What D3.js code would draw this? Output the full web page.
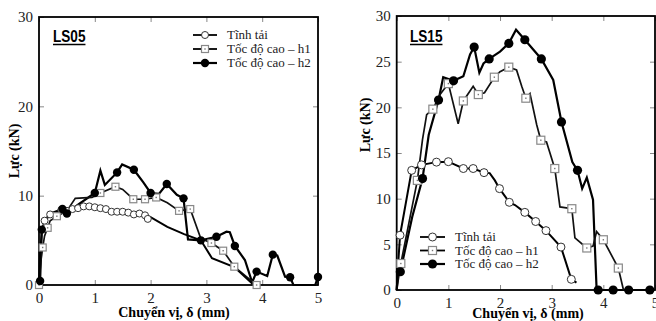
<!DOCTYPE html>
<html>
<head>
<meta charset="utf-8">
<script src="https://cdn.jsdelivr.net/npm/d3@7"></script>
<style>
  body { margin: 0; background: #fff; }
  svg { display: block; }
  .serif, .tick text { font-family: "Liberation Serif", "Times New Roman", Times, "DejaVu Serif", serif; }
  .tick text { font-size: 15px; fill: #222; }
  .tick line { stroke: #888; }
</style>
</head>
<body>
<div id="chart"></div>
<script>
// ---- data: [displacement mm, force kN] ----
const xTicks = [0, 1, 2, 3, 4, 5];
const ls05YTicks = [0, 10, 20, 30];
const ls15YTicks = [0, 5, 10, 15, 20, 25, 30];
const seriesNames = ["Tĩnh tải", "Tốc độ cao – h1", "Tốc độ cao – h2"];

// LS05
const ls05Static = [[0,0],[0.02,3.5],[0.05,6.0],[0.1,7.0],[0.15,7.6],[0.2,7.9],[0.3,8.1],[0.4,8.3],[0.5,8.4],[0.6,8.6],[0.7,8.7],[0.8,8.8],[0.9,8.7],[1.0,8.6],[1.1,8.6],[1.2,8.5],[1.3,8.3],[1.4,8.2],[1.5,8.2],[1.6,8.1],[1.7,7.9],[1.8,7.9],[1.9,7.8],[2.0,7.6],[2.3,6.5],[2.6,5.7],[2.9,5.0],[3.1,3.0],[3.5,2.0],[3.85,0]];
const ls05StaticMarks = [[0.1,7.2],[0.2,7.9],[0.4,8.4],[0.5,8.3],[0.6,8.5],[0.7,8.6],[0.8,8.8],[0.9,8.8],[1.0,8.7],[1.1,8.6],[1.2,8.5],[1.3,8.2],[1.4,8.2],[1.5,8.2],[1.6,8.1],[1.7,7.9],[1.8,8.0],[1.9,7.8],[1.95,7.4]];
const ls05H1 = [[0,0],[0.03,2.5],[0.066,4.2],[0.1,5.5],[0.155,6.4],[0.2,7.2],[0.32,7.7],[0.5,8.3],[0.65,9.7],[0.95,9.8],[1.1,10.3],[1.37,11.0],[1.5,10.7],[1.69,9.6],[1.9,9.6],[2.1,9.8],[2.3,9.2],[2.51,8.3],[2.71,8.5],[2.9,5.2],[3.09,4.7],[3.3,3.84],[3.5,2.05],[3.9,0]];
const ls05H1Marks = [[0,0],[0.066,4.2],[0.155,6.4],[0.32,7.7],[1.1,10.3],[1.37,11.0],[1.69,9.6],[1.9,9.6],[2.1,9.8],[2.51,8.3],[2.71,8.5],[3.09,4.7],[3.3,3.84],[3.5,2.05],[3.9,0]];
const ls05H2 = [[0,0],[0.02,0.4],[0.05,6.2],[0.1,7.0],[0.2,8.0],[0.42,8.5],[0.5,8.0],[0.7,9.0],[1.0,10.3],[1.1,12.8],[1.18,11.2],[1.4,12.6],[1.49,13.5],[1.7,12.9],[1.87,11.5],[2.0,10.3],[2.15,10.2],[2.29,11.3],[2.47,10.1],[2.59,9.7],[2.67,5.1],[2.9,5.0],[3.18,5.4],[3.36,5.97],[3.42,5.9],[3.51,4.37],[3.69,2.8],[3.82,0.3],[3.9,1.5],[4.09,1.0],[4.19,3.4],[4.27,3.3],[4.41,0.93],[4.5,0.86],[4.56,0],[4.95,0],[5.0,0.9]];
const ls05H2Marks = [[0.02,0.45],[0.05,6.2],[0.42,8.5],[0.5,8.0],[1.0,10.3],[1.4,12.6],[1.7,12.9],[2.0,10.3],[2.29,11.3],[2.59,9.7],[2.9,5.0],[3.18,5.4],[3.51,4.37],[3.9,1.5],[4.19,3.4],[4.5,0.86],[5.0,0.9]];

// LS15
const ls15Static = [[0,0],[0.03,3],[0.065,6.0],[0.29,13.1],[0.48,13.7],[0.77,14.0],[1.0,14.05],[1.29,13.3],[1.48,13.3],[1.69,12.85],[1.8,12.8],[1.9,12.0],[1.99,11.1],[2.18,9.6],[2.29,9.3],[2.48,8.5],[2.69,7.5],[2.89,6.5],[3.18,4.7],[3.26,3.3],[3.38,1.17],[3.48,0.8]];
const ls15StaticMarks = [[0.065,6.0],[0.29,13.1],[0.48,13.7],[0.77,14.0],[1.0,14.05],[1.29,13.3],[1.48,13.3],[1.69,12.85],[1.99,11.1],[2.18,9.6],[2.48,8.5],[2.69,7.5],[2.89,6.5],[3.18,4.7],[3.38,1.17]];
const ls15H1 = [[0,0],[0.04,1.5],[0.08,2.9],[0.4,12.0],[0.5,16.5],[0.58,19.2],[0.7,19.8],[0.85,21.5],[1.0,22.6],[1.19,18.2],[1.29,20.7],[1.48,22.3],[1.58,21.4],[1.7,21.6],[1.89,23.3],[2.0,23.9],[2.17,24.4],[2.32,24.1],[2.42,22.3],[2.5,21.0],[2.58,21.5],[2.71,18.1],[2.79,16.4],[2.9,16.2],[3.06,13.3],[3.16,9.1],[3.39,8.9],[3.45,5.7],[3.68,4.6],[3.8,4.8],[3.87,6.4],[4.0,5.5],[4.29,2.4],[4.39,0]];
const ls15H1Marks = [[0.08,2.9],[0.4,12.0],[0.7,19.8],[1.0,22.6],[1.29,20.7],[1.58,21.4],[1.89,23.3],[2.17,24.4],[2.5,21.0],[2.79,16.4],[3.06,13.3],[3.39,8.9],[3.68,4.6],[4.0,5.5],[4.29,2.4]];
const ls15H2 = [[0,0],[0.02,1.5],[0.07,2.0],[0.3,8.0],[0.5,12.2],[0.62,17.0],[0.81,20.8],[0.9,23.3],[1.1,22.9],[1.29,23.4],[1.42,25.8],[1.5,26.6],[1.6,23.8],[1.68,24.8],[1.79,25.3],[2.0,26.1],[2.17,27.0],[2.31,28.5],[2.48,27.4],[2.8,25.3],[3.03,23.0],[3.19,18.4],[3.4,14.0],[3.5,13.1],[3.59,11.1],[3.68,12.3],[3.8,9.9],[3.87,0],[4.9,0]];
const ls15H2Marks = [[0.07,2.0],[0.5,12.2],[0.81,20.8],[1.1,22.9],[1.5,26.6],[1.79,25.3],[2.17,27.0],[2.48,27.4],[2.8,25.3],[3.19,18.4],[3.5,13.1],[3.9,0],[4.19,0],[4.49,0],[4.9,0]];

const W = 656, H = 321;
const SERIF = "'Liberation Serif', 'Times New Roman', Times, serif";
const svg = d3.select("#chart").append("svg").attr("width", W).attr("height", H);

function drawPanel(p) {
    let x = d3.scaleLinear().domain([0, 5]).range([p.left, p.right]);
    let y = d3.scaleLinear().domain([0, 30]).range([p.bottom, p.top]);
    let g = svg.append("g");
    let fmt = d3.format("d");

    // axes, ticks inward
    g.append("g").attr("transform", "translate(0," + p.bottom + ")")
        .call(d3.axisBottom(x).tickValues(xTicks).tickFormat(fmt).tickSizeInner(-5).tickSizeOuter(0).tickPadding(7))
        .attr("font-family", SERIF).attr("font-size", 15)
        .call(a => a.select(".domain").remove());
    g.append("g").attr("transform", "translate(0," + p.top + ")")
        .call(d3.axisTop(x).tickValues(xTicks).tickSizeInner(-5).tickSizeOuter(0).tickFormat(""))
        .call(a => a.select(".domain").remove());
    g.append("g").attr("transform", "translate(" + p.left + ",0)")
        .call(d3.axisLeft(y).tickValues(p.yTicks).tickFormat(fmt).tickSizeInner(-5).tickSizeOuter(0).tickPadding(6))
        .attr("font-family", SERIF).attr("font-size", 15)
        .call(a => a.select(".domain").remove());
    g.append("g").attr("transform", "translate(" + p.right + ",0)")
        .call(d3.axisRight(y).tickValues(p.yTicks).tickSizeInner(-5).tickSizeOuter(0).tickFormat(""))
        .call(a => a.select(".domain").remove());

    // frame
    g.append("rect").attr("x", p.left).attr("y", p.top)
        .attr("width", p.right - p.left).attr("height", p.bottom - p.top)
        .attr("fill", "none").attr("stroke", "#000").attr("stroke-width", 1.8);

    let line = d3.line().x(d => x(d[0])).y(d => y(d[1]));

    g.append("path").datum(p.h2).attr("d", line).attr("fill", "none").attr("stroke", "#000").attr("stroke-width", 2.2);
    g.append("path").datum(p.h1).attr("d", line).attr("fill", "none").attr("stroke", "#111").attr("stroke-width", 1.7);
    g.append("path").datum(p.stat).attr("d", line).attr("fill", "none").attr("stroke", "#000").attr("stroke-width", 2);

    // markers
    g.selectAll(".m0").data(p.statMarks).enter().append("circle")
        .attr("cx", d => x(d[0])).attr("cy", d => y(d[1])).attr("r", p.rOpen)
        .attr("fill", "#fff").attr("stroke", "#333").attr("stroke-width", 1);
    let sq = p.sq;
    g.selectAll(".m1").data(p.h1Marks).enter().append("rect")
        .attr("x", d => x(d[0]) - sq / 2).attr("y", d => y(d[1]) - sq / 2)
        .attr("width", sq).attr("height", sq)
        .attr("fill", "#fff").attr("stroke", "#888").attr("stroke-width", 1.2);
    g.selectAll(".m1d").data(p.h1Marks).enter().append("rect")
        .attr("x", d => x(d[0]) - 0.7).attr("y", d => y(d[1]) - 0.7)
        .attr("width", 1.4).attr("height", 1.4).attr("fill", "#777");
    g.selectAll(".m2").data(p.h2Marks).enter().append("circle")
        .attr("cx", d => x(d[0])).attr("cy", d => y(d[1])).attr("r", p.rFill)
        .attr("fill", "#000");

    // panel title (narrow bold sans, underlined)
    let t = g.append("text").attr("transform", "translate(" + p.titleX + "," + p.titleY + ") scale(0.85,1)")
        .style("font-family", "'Liberation Sans Narrow', 'Liberation Sans', Arial, sans-serif")
        .attr("font-weight", "bold").attr("font-size", 16).text(p.title);
    let tw = t.node().getComputedTextLength() * 0.85;
    g.append("line").attr("x1", p.titleX).attr("x2", p.titleX + tw)
        .attr("y1", p.titleY + 2.5).attr("y2", p.titleY + 2.5)
        .attr("stroke", "#000").attr("stroke-width", 1.4);

    // axis labels
    g.append("text").attr("class", "serif").attr("x", p.xLabelX).attr("y", p.xLabelY).attr("text-anchor", "middle")
        .attr("font-weight", "bold").attr("font-size", 14)
        .text("Chuyển vị, δ (mm)");
    g.append("text").attr("class", "serif").attr("transform", "translate(" + p.yLabelX + "," + p.yLabelY + ") rotate(-90)")
        .attr("text-anchor", "middle")
        .attr("font-weight", "bold").attr("font-size", 14)
        .text("Lực (kN)");

    // legend
    let lg = g.append("g").attr("class", "serif").attr("font-size", p.legFont);
    seriesNames.forEach((name, i) => {
        let ly = p.legY + i * p.legGap;
        lg.append("line").attr("x1", p.legX).attr("x2", p.legX + p.legLen).attr("y1", ly).attr("y2", ly)
            .attr("stroke", "#000").attr("stroke-width", i == 2 ? 2.2 : 1.8);
        let cx = p.legX + p.legLen / 2;
        if (i == 0) {
            lg.append("circle").attr("cx", cx).attr("cy", ly).attr("r", p.rOpen)
                .attr("fill", "#fff").attr("stroke", "#333");
        } else if (i == 1) {
            lg.append("rect").attr("x", cx - sq / 2).attr("y", ly - sq / 2).attr("width", sq).attr("height", sq)
                .attr("fill", "#fff").attr("stroke", "#888").attr("stroke-width", 1.2);
            lg.append("rect").attr("x", cx - 0.7).attr("y", ly - 0.7).attr("width", 1.4).attr("height", 1.4).attr("fill", "#777");
        } else {
            lg.append("circle").attr("cx", cx).attr("cy", ly).attr("r", p.rFill).attr("fill", "#000");
        }
        lg.append("text").attr("class", "serif").attr("x", p.legX + p.legLen + p.legTextGap).attr("y", ly + 4)
            .attr("fill", "#222").text(name);
    });
}

drawPanel({
    left: 39, right: 318, top: 17, bottom: 285, yTicks: ls05YTicks,
    stat: ls05Static, statMarks: ls05StaticMarks, h1: ls05H1, h1Marks: ls05H1Marks, h2: ls05H2, h2Marks: ls05H2Marks,
    rOpen: 3.5, rFill: 4.2, sq: 7,
    title: "LS05", titleX: 53, titleY: 42,
    xLabelX: 174, xLabelY: 317, yLabelX: 19, yLabelY: 151,
    legX: 193, legLen: 24, legTextGap: 10, legY: 35, legGap: 14, legFont: 13
});
drawPanel({
    left: 396.7, right: 655, top: 16, bottom: 290, yTicks: ls15YTicks,
    stat: ls15Static, statMarks: ls15StaticMarks, h1: ls15H1, h1Marks: ls15H1Marks, h2: ls15H2, h2Marks: ls15H2Marks,
    rOpen: 4, rFill: 4.6, sq: 8,
    title: "LS15", titleX: 410, titleY: 42,
    xLabelX: 528, xLabelY: 318, yLabelX: 370, yLabelY: 125,
    legX: 420, legLen: 25, legTextGap: 10, legY: 237, legGap: 13.5, legFont: 13
});
</script>
</body>
</html>
